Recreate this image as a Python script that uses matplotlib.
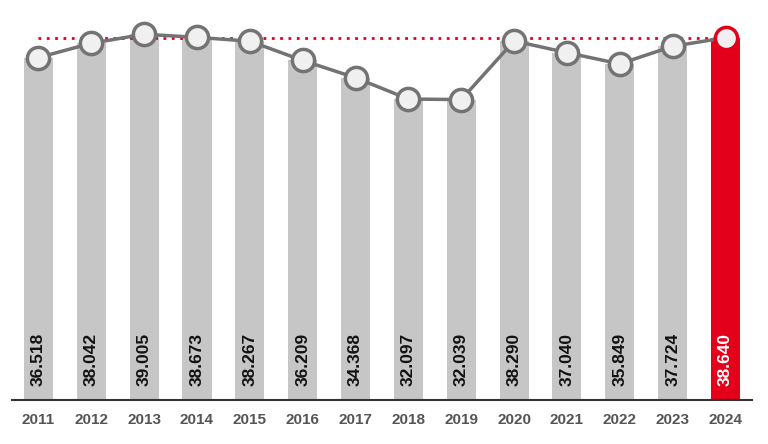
import numpy as np
from matplotlib import pyplot as plt

plt.rcParams['font.family'] = ['Liberation Sans', 'DejaVu Sans']

years = ['2011', '2012', '2013', '2014', '2015', '2016', '2017',
         '2018', '2019', '2020', '2021', '2022', '2023', '2024']
values = [36.518, 38.042, 39.005, 38.673, 38.267, 36.209, 34.368,
          32.097, 32.039, 38.290, 37.040, 35.849, 37.724, 38.640]
labels = ['36.518', '38.042', '39.005', '38.673', '38.267', '36.209', '34.368',
          '32.097', '32.039', '38.290', '37.040', '35.849', '37.724', '38.640']

gray = '#c6c6c6'
red = '#e2001a'
line_gray = '#737373'

fig = plt.figure(figsize=(7.68, 4.44), dpi=100)
ax = fig.add_axes([0.0156, 0.099, 0.9635, 0.885])

x = np.arange(len(years))
colors = [gray] * (len(years) - 1) + [red]
ax.bar(x, values, width=0.55, color=colors, zorder=1)

# reference level of the last year
ax.plot([x[0], x[-1]], [values[-1], values[-1]], color=red, lw=2,
        linestyle=(0, (1, 2)), zorder=2)

ax.plot(x, values, color=line_gray, lw=2.5, zorder=3)
ax.plot(x[:-1], values[:-1], linestyle='', marker='o', ms=16,
        mfc='#f0f0f0', mec=line_gray, mew=2.5, zorder=4)
ax.plot(x[-1:], values[-1:], linestyle='', marker='o', ms=16,
        mfc='#f0f0f0', mec=red, mew=2.5, zorder=4)

for i, lab in enumerate(labels):
    c = 'white' if i == len(labels) - 1 else '#111111'
    ax.text(x[i], 1.5, lab, rotation=90, ha='center', va='bottom',
            fontsize=12.5, fontweight='bold', color=c, zorder=5)

ax.set_xlim(-0.5, 13.5)
ax.set_ylim(0, 41.9)
ax.set_xticks(x)
ax.set_xticklabels(years, fontsize=11, fontweight='bold', color='#555555')
ax.tick_params(axis='x', length=0, pad=9)
ax.set_yticks([])
for s in ['top', 'right', 'left']:
    ax.spines[s].set_visible(False)
ax.spines['bottom'].set_color('#333333')
ax.spines['bottom'].set_linewidth(1.5)

fig.savefig('out.png', dpi=100)
